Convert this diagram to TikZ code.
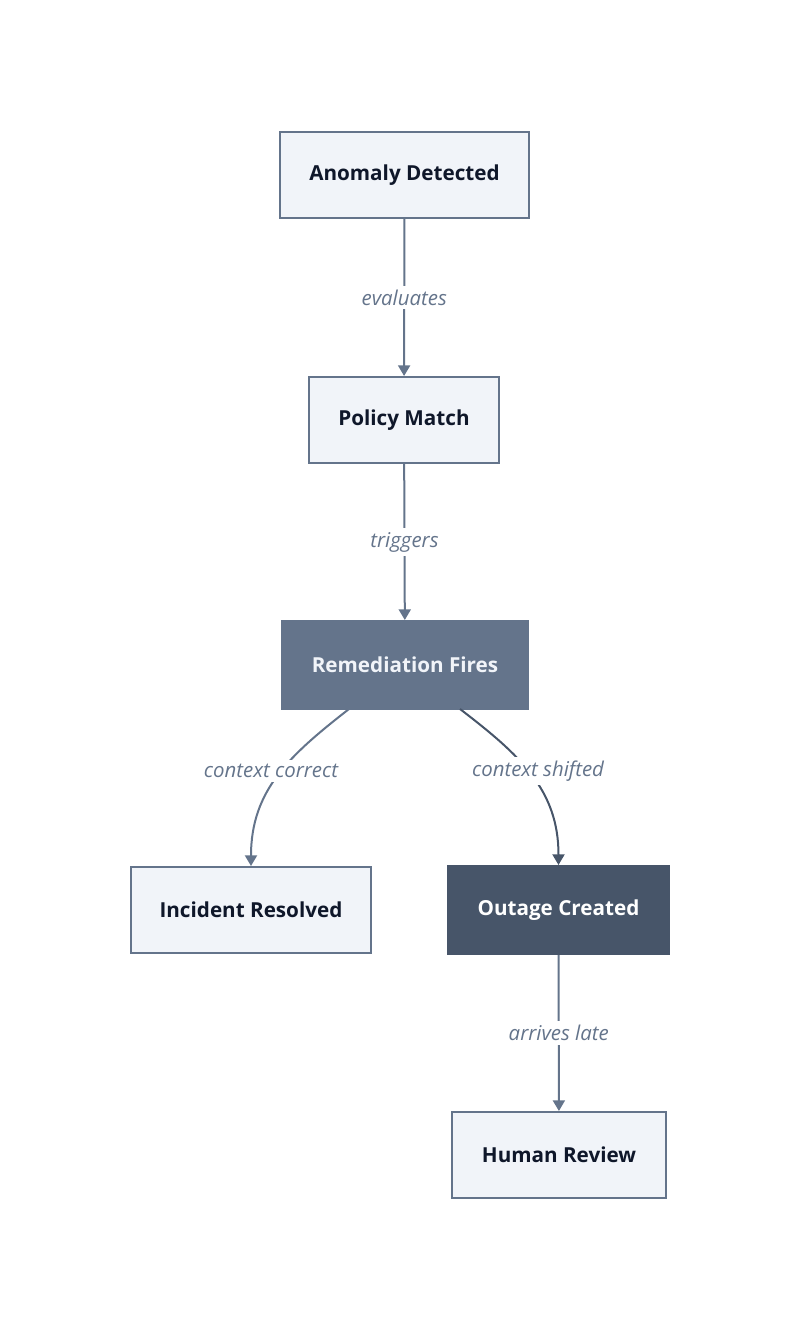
\documentclass[tikz,border=0pt]{standalone}
\usepackage{fontspec}
\setmainfont{Open Sans}
\usetikzlibrary{arrows.meta}
\definecolor{boxfill}{HTML}{F1F4F9}
\definecolor{slate}{HTML}{64748B}
\definecolor{slatedark}{HTML}{475569}
\definecolor{ink}{HTML}{0F172A}
\begin{document}
\begin{tikzpicture}[
    x=0.75pt, y=-0.75pt,
    box/.style={rectangle, draw=slate, line width=1.5pt, fill=boxfill, text=ink, font=\fontsize{15.5}{18}\selectfont\bfseries, align=center},
    arrow/.style={-{Triangle[width=9pt, length=8pt]}, line width=1.5pt, slate},
    lbl/.style={fill=white, text=slate, font=\fontsize{15.3}{18}\selectfont\itshape, inner sep=3pt},
]
\useasboundingbox (0,0) rectangle (800,1329);

% Main chain
\node[box, minimum width=249*0.75pt, minimum height=86*0.75pt] (anomaly) at (404.5,175) {Anomaly Detected};
\node[box, minimum width=190*0.75pt, minimum height=86*0.75pt] (policy) at (404,420) {Policy Match};
\node[box, fill=slate, text=boxfill, minimum width=246*0.75pt, minimum height=88*0.75pt] (remedy) at (405,665) {Remediation Fires};

% Outcomes
\node[box, minimum width=240*0.75pt, minimum height=86*0.75pt] (resolved) at (251,910) {Incident Resolved};
\node[box, draw=slatedark, fill=slatedark, text=white, minimum width=221*0.75pt, minimum height=88*0.75pt] (outage) at (558.5,910) {Outage Created};
\node[box, minimum width=214*0.75pt, minimum height=86*0.75pt] (review) at (559,1155) {Human Review};

% Connectors
\coordinate (remL) at (349,709);
\coordinate (remR) at (460,709);
\draw[arrow] (anomaly) -- node[lbl] {evaluates} (policy);
\draw[arrow] (policy) -- node[lbl] {triggers} (remedy);
\draw[arrow] (remL) .. controls (290,755) and (251,790) .. (resolved.north);
\draw[arrow, slatedark] (remR) .. controls (520,755) and (558.5,790) .. (outage.north);
\draw[arrow] (outage) -- node[lbl] {arrives late} (review);

% Labels
\node[lbl] (lblcorrect) at (271,771) {context correct};
\node[lbl] (lblshifted) at (538,771) {context shifted};
\end{tikzpicture}
\end{document}
